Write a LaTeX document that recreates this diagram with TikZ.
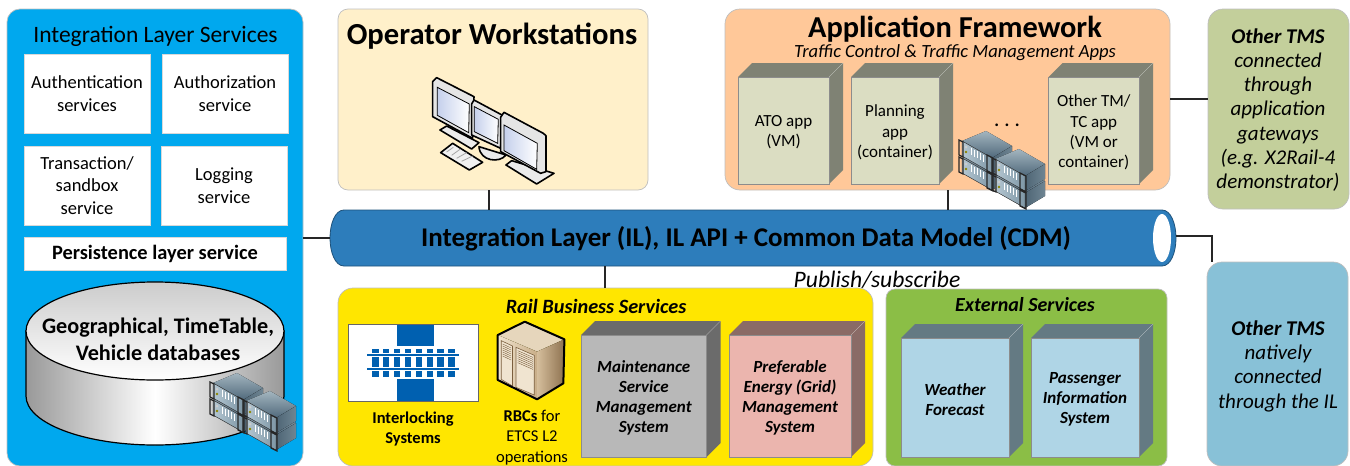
\documentclass[tikz,border=0pt]{standalone}
\usepackage{fontspec}
\setmainfont{Carlito}
\newcommand{\fs}[2]{\fontsize{#1}{#2}\selectfont}
\newcommand{\dn}[1]{\raisebox{-2pt}[\height][\depth]{#1}}
\definecolor{cIL}{HTML}{00A8EE}
\definecolor{cOp}{HTML}{FFF0CA}
\definecolor{cApp}{HTML}{FFC899}
\definecolor{cTmsA}{HTML}{C3CF9B}
\definecolor{cTmsB}{HTML}{88C1D7}
\definecolor{cPipe}{HTML}{2D7DBB}
\definecolor{cRail}{HTML}{FFE600}
\definecolor{cExt}{HTML}{8BBE46}
\definecolor{cSl}{HTML}{0060B0}
\definecolor{cAppF}{HTML}{DBDDC2}
\definecolor{cAppS}{HTML}{7F8274}
\definecolor{cPemF}{HTML}{EBB5AE}
\definecolor{cPemS}{HTML}{8A6B66}
\definecolor{cExtF}{HTML}{AFD5E6}
\definecolor{cExtS}{HTML}{647A83}
\definecolor{srvTopA}{HTML}{A3B5BF}
\definecolor{srvTopB}{HTML}{50697B}
\definecolor{srvSideA}{HTML}{4E6575}
\definecolor{srvSideB}{HTML}{6F8593}
\definecolor{srvFrontA}{HTML}{B5C7D2}
\definecolor{srvFrontB}{HTML}{7E97A6}
\definecolor{scrA}{HTML}{C5D0EC}
\definecolor{rbcTop}{HTML}{E6D6BC}
\definecolor{rbcFront}{HTML}{F0E4D0}
\definecolor{rbcFrontB}{HTML}{C9AE88}
\definecolor{rbcSideA}{HTML}{D5BE9C}
\definecolor{rbcSideB}{HTML}{8E7250}
\definecolor{rbcLine}{HTML}{7A5E3E}
\tikzset{
  panelbox/.style={rounded corners=#1,draw=black!25,line width=.7pt,inner sep=0pt,outer sep=0pt,anchor=north west},
  whitebox/.style={fill=white,draw=black!15,line width=.6pt,inner sep=0pt,outer sep=0pt,align=center,font=\fs{18.5}{22.5}},
  cubefront/.style={draw=black!45,line width=.5pt,inner sep=0pt,outer sep=0pt,align=center},
  apptext/.style={font=\fs{17}{20.3}},
  svctext/.style={font=\bfseries\itshape\fs{17}{20}},
  conn/.style={draw=black!85,line width=1.1pt},
  txt/.style={inner sep=0pt,align=center},
  kw/.style={draw=black,line width=1.6pt,line join=round},
  scr/.style={draw=black,line width=.8pt,left color=scrA,right color=white},
  frm/.style={kw,fill=black!10},
}
% name x1 y1 x2 y2 fill radius
\newcommand{\myPanel}[7]{%
  \pgfmathsetmacro{\pw}{#4-#2}\pgfmathsetmacro{\ph}{#5-#3}%
  \node[panelbox=#7,fill=#6,minimum width=\pw pt,minimum height=\ph pt] (#1) at (#2,#3) {};}
% name x1 y1 x2 y2 front side textstyle text
\newcommand{\myCube}[9]{%
  \pgfmathsetmacro{\pw}{#4-#2}\pgfmathsetmacro{\ph}{#5-#3}%
  \pgfmathsetmacro{\pa}{#2+14}\pgfmathsetmacro{\pb}{#4+14}\pgfmathsetmacro{\pc}{#3-14}\pgfmathsetmacro{\pd}{#5-14}%
  \fill[#7] (#2,#3) -- (\pa,\pc) -- (\pb,\pc) -- (\pb,\pd) -- (#4,#5) -- (#4,#3) -- cycle;
  \draw[white!70!#7,line width=.3pt] (#4,#3) -- (\pb,\pc);
  \node[cubefront,fill=#6,#8,minimum width=\pw pt,minimum height=\ph pt,anchor=north west] (#1) at (#2,#3) {#9};}
% server unit in local coordinates
\newcommand{\srvUnit}[2]{%
  \begin{scope}[shift={(#1,#2)}]
    \fill[top color=srvTopA,bottom color=srvTopB] (5,10) -- (29,0) -- (55,15) -- (35,27) -- cycle;
    \fill[left color=srvSideA,right color=srvSideB] (35,27) -- (55,15) -- (55,30) -- (35,42) -- cycle;
    \fill[left color=srvFrontA,right color=srvFrontB] (5,10) -- (35,27) -- (35,42) -- (5,25) -- cycle;
    \draw[black!80,line width=.4pt] (5,10) -- (35,27) -- (35,42) -- (5,25) -- cycle;
    \draw[black!85,line width=1.2pt] (2,9) -- (6,11) -- (6,26) -- (2,24) -- cycle;
    \draw[black!85,line width=1.2pt] (30,24) -- (36,27) -- (36,43) -- (30,40) -- cycle;
    \fill[black!20] (9,16) circle[radius=1.5pt];
    \fill[olive] (9,21) circle[radius=1.3pt];
    \foreach \q in {14,17,20,23,26} \draw[white,line width=1pt] (\q,{17+(\q-14)*.55}) -- (\q,{24+(\q-14)*.55});
  \end{scope}}
\newcommand{\srvStack}[2]{%
  \begin{scope}[shift={(#1,#2)}]
    \srvUnit{0}{17}\srvUnit{0}{0}\srvUnit{33}{35}\srvUnit{33}{18}
  \end{scope}}
\begin{document}
\begin{tikzpicture}[x=1pt,y=-1pt]
\useasboundingbox (0,0) rectangle (1350,466);
\myPanel{ils}{7}{9}{303}{466}{cIL}{13pt}
\myPanel{opw}{338}{9}{648}{190}{cOp}{10pt}
\myPanel{apf}{725}{9}{1170}{190}{cApp}{15pt}
\myPanel{tmsa}{1208}{9}{1349}{209}{cTmsA}{15pt}
\myPanel{tmsb}{1207}{262}{1348}{466}{cTmsB}{15pt}
\myPanel{rbs}{338}{288}{873}{466}{cRail}{15pt}
\myPanel{ext}{886}{289}{1167}{466}{cExt}{9pt}
% pipe
\fill[cPipe,draw=cPipe!65!black,line width=.8pt,rounded corners=0pt] (344,210) -- (1162,210) .. controls (1171,210) and (1176,224) .. (1176,238) .. controls (1176,252) and (1171,266) .. (1162,266) -- (344,266) .. controls (335,266) and (330,252) .. (330,238) .. controls (330,224) and (335,210) .. (344,210) -- cycle;
\fill[white] (1162,238) ellipse[x radius=9pt,y radius=24pt];
\node[txt,font=\bfseries\fs{27}{30}] (pipe) at (746,239) {Integration Layer (IL), IL API + Common Data Model (CDM)};
\coordinate (pipeN) at (746,210);
\coordinate (pipeS) at (746,266);
\coordinate (pipeW) at (330,238);
\coordinate (pipeE) at (1176,236);
% connectors
\draw[conn] (ils.east |- pipeW) -- (pipeW);
\draw[conn] ([xshift=-4pt]opw.south) -- ([xshift=-4pt]opw.south |- pipeN);
\draw[conn] ([xshift=0.5pt]apf.south) -- ([xshift=0.5pt]apf.south |- pipeN);
\draw[conn] ([xshift=-0.5pt]rbs.north) -- ([xshift=-0.5pt]rbs.north |- pipeS);
\draw[conn] (apf.east |- 0,99) -- (tmsa.west |- 0,99);
\draw[conn] (pipeE) -| ([xshift=-65.5pt]tmsb.north);
% ILS
\node[txt,font=\fs{23.5}{26}] (ilsT) at (155.5,36) {Integration Layer Services};
\node[whitebox,minimum width=126pt,minimum height=79pt] (auth) at (87,93.5) {Authentication\\services};
\node[whitebox,minimum width=126pt,minimum height=79pt] (autz) at (225,93.5) {Authorization\\service};
\node[whitebox,minimum width=126pt,minimum height=79pt] (tran) at (87,185.5) {Transaction/\\sandbox\\service};
\node[whitebox,minimum width=126pt,minimum height=79pt] (logg) at (224,185.5) {Logging\\service};
\node[whitebox,minimum width=262pt,minimum height=33pt,font=\bfseries\fs{20.4}{22}] (pers) at (155,253.5) {Persistence layer service};
% database
\path[draw=black,line width=1.2pt,left color=black!40,right color=black!40,middle color=white] (26,331) -- (26,396) arc[start angle=180,end angle=360,x radius=129pt,y radius=49pt] -- (284,331) -- cycle;
\path[draw=black,line width=1.2pt,top color=black!20,bottom color=white] (155,331) ellipse[x radius=129pt,y radius=49pt];
\node[txt,font=\bfseries\fs{22.2}{27}] (db) at (158,339.5) {Geographical, TimeTable,\\Vehicle databases};
\srvStack{208}{373}
% operator
\node[txt,font=\bfseries\fs{30.6}{34}] (opT) at (492,36) {Operator Workstations};
\begin{scope}[shift={(330,0)},x=.3333pt,y=-.3333pt]
  \draw[kw,fill=black!8] (330,390) -- (350,378) -- (447,428) -- (425,447) -- cycle;
  \draw[kw,fill=black!6] (332,458) -- (368,430) -- (458,487) -- (418,510) -- cycle;
  \draw[black!35,line width=.8pt] (350,456) -- (370,442) (365,466) -- (390,448) (380,475) -- (410,458) (395,484) -- (428,468);
  \draw[frm] (308,245) -- (320,233) -- (432,290) -- (428,415) -- (308,350) -- cycle;
  \path[scr] (322,262) -- (418,312) -- (416,398) -- (322,346) -- cycle;
  \draw[kw,fill=black!8] (447,440) .. controls (450,485) and (510,490) .. (528,465) -- cycle;
  \draw[frm] (425,312) -- (432,300) -- (516,345) -- (512,445) -- (425,405) -- cycle;
  \path[scr] (433,320) -- (505,358) -- (503,430) -- (433,395) -- cycle;
  \draw[kw,fill=black!8] (528,495) -- (545,482) -- (672,520) -- (620,552) -- cycle;
  \draw[frm] (512,352) -- (522,337) -- (640,400) -- (648,407) -- (648,515) -- (632,520) -- (512,455) -- cycle;
  \path[scr] (522,375) -- (622,430) -- (620,508) -- (522,452) -- cycle;
\end{scope}
% application framework
\node[txt,font=\bfseries\fs{30.4}{34}] (apT) at (955,29) {Application Framework};
\node[txt,font=\itshape\fs{18.6}{20}] (apS) at (955,52.5) {Traffic Control \& Traffic Management Apps};
\myCube{ato}{738}{77}{829}{184}{cAppF}{cAppS}{apptext}{\dn{ATO app}\\\dn{(VM)}}
\myCube{pln}{851}{77}{939}{184}{cAppF}{cAppS}{apptext}{\dn{Planning}\\\dn{app}\\\dn{(container)}}
\myCube{otm}{1048.5}{77}{1139}{184}{cAppF}{cAppS}{apptext}{\dn{Other TM/}\\\dn{TC app}\\\dn{(VM or}\\\dn{container)}}
\node[txt,font=\bfseries\fs{18}{20}] (dots) at (1007,125) {. . .};
\srvStack{957}{131}
% other TMS
\node[txt,font=\itshape\fs{21}{24.3}] (tmsaT) at (1278,110) {\textbf{Other TMS}\\connected\\through\\application\\gateways\\(e.g. X2Rail-4\\demonstrator)};
\node[txt,font=\itshape\fs{21}{24.3}] (tmsbT) at (1278,366) {\textbf{Other TMS}\\natively\\connected\\through the IL};
\node[txt,font=\itshape\fs{23.6}{26}] (pub) at (877,280) {Publish/subscribe};
% rail services
\node[txt,font=\bfseries\itshape\fs{20.3}{22}] (rbsT) at (596,306) {Rail Business Services};
\node[draw=black!60,fill=white,line width=.6pt,inner sep=0pt,minimum width=130pt,minimum height=77pt,anchor=north west] (ilk) at (347.5,324) {};
\fill[cSl] (397,324.5) rectangle (433.5,346);
\fill[cSl] (397,379) rectangle (433.5,400.5);
\foreach \q in {0,...,7} \fill[cSl] ({372+\q*10.9},349) rectangle ({378.5+\q*10.9},377);
\draw[white,line width=4pt] (367,355) -- (459,355) (367,369) -- (459,369);
\draw[cSl,line width=1.8pt] (367,355) -- (459,355) (367,369) -- (459,369);
\node[txt,font=\bfseries\fs{16.5}{20.5}] (ilkT) at (413,429) {Interlocking\\Systems};
\begin{scope}[shift={(330,280)},x=.3509pt,y=-.3333pt]
  \fill[rbcTop] (478,165) -- (555,125) -- (668,178) -- (590,215) -- cycle;
  \fill[left color=rbcFront,right color=rbcFrontB] (478,165) -- (590,215) -- (590,358) -- (478,300) -- cycle;
  \fill[left color=rbcSideA,right color=rbcSideB] (590,215) -- (668,178) -- (665,310) -- (590,358) -- cycle;
  \draw[rbcLine,line width=.6pt,fill=rbcFront] (488,182) -- (520,198) -- (520,318) -- (488,298) -- cycle;
  \draw[rbcLine,line width=.6pt,fill=rbcFront] (530,202) -- (582,226) -- (582,345) -- (530,322) -- cycle;
  \foreach \q in {0,1,...,6} \draw[rbcLine,line width=.4pt] (535,{212+\q*6}) -- (578,{232+\q*6});
  \foreach \q in {0,1,...,6} \draw[rbcLine,line width=.4pt] (492,{192+\q*6}) -- (516,{204+\q*6});
  \draw[black,line width=2pt,line join=round] (478,165) -- (555,125) -- (668,178) -- (665,310) -- (590,358) -- (478,300) -- cycle;
\end{scope}
\node[txt,font=\fs{16.5}{20.3}] (rbcT) at (532,437.5) {\textbf{RBCs} for\\ETCS L2\\operations};
\myCube{msm}{581}{335}{706.5}{457}{black!28}{black!58}{svctext}{\dn{Maintenance}\\\dn{Service}\\\dn{Management}\\\dn{System}}
\myCube{pem}{729}{335}{851}{457}{cPemF}{cPemS}{svctext}{\dn{Preferable}\\\dn{Energy (Grid)}\\\dn{Management}\\\dn{System}}
% external
\node[txt,font=\bfseries\itshape\fs{20}{22}] (extT) at (1025,305) {External Services};
\myCube{wea}{901}{338}{1009}{457}{cExtF}{cExtS}{svctext}{\dn{Weather}\\\dn{Forecast}}
\myCube{pas}{1031}{338}{1139}{457}{cExtF}{cExtS}{svctext}{\dn{Passenger}\\\dn{Information}\\\dn{System}}
\end{tikzpicture}
\end{document}
